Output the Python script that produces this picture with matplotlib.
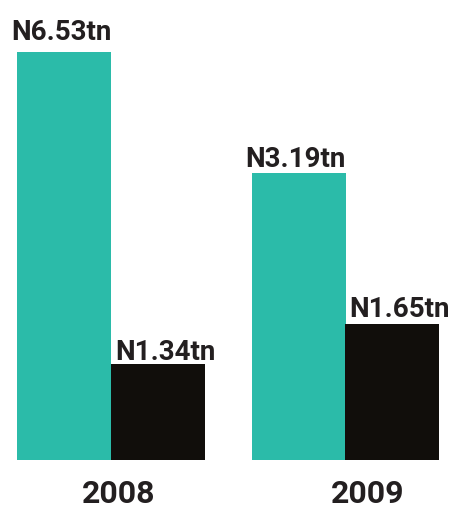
import matplotlib
matplotlib.use("Agg")
import matplotlib.pyplot as plt
import matplotlib.transforms as mtransforms
import numpy as np

plt.rcParams['font.family'] = ['Roboto', 'DejaVu Sans']

years = ["2008", "2009"]
# values shown on the labels (trillion naira)
teal_values = [6.53, 3.19]
black_values = [1.34, 1.65]
# bar heights as drawn in the picture (not to scale with the labels)
teal_heights = [6.53, 4.59]
black_heights = [1.53, 2.17]

teal = "#2bbba9"
black = "#110e0b"
text_col = "#231f20"

W, H = 454, 518
fig = plt.figure(figsize=(W / 100, H / 100), dpi=100)
ax = fig.add_axes([0, 58.5 / H, 1, 459.5 / H])

x = np.arange(len(years))
bw = 0.4
ax.bar(x - bw / 2, teal_heights, width=bw, color=teal)
ax.bar(x + bw / 2, black_heights, width=bw, color=black)

ax.set_xlim(-111 / 234.5, (W - 111) / 234.5)
ax.set_ylim(0, 459.5 / 62.4)
ax.axis('off')

def label(xpos, h, txt, dx, gap):
    tr = mtransforms.offset_copy(ax.transData, fig=fig, x=dx * 0.72, y=gap * 0.72, units='points')
    ax.text(xpos, h, txt, transform=tr, ha='center', va='baseline',
            fontsize=20, fontweight='bold', color=text_col)

teal_gap = [12, 6]
black_gap = [4, 7]
for i in range(len(years)):
    label(x[i] - bw / 2, teal_heights[i], f"N{teal_values[i]:.2f}tn", -3, teal_gap[i])
    label(x[i] + bw / 2, black_heights[i], f"N{black_values[i]:.2f}tn", 7.5, black_gap[i])

year_dx = [7.5, 22.5]
for i, yr in enumerate(years):
    tr = mtransforms.offset_copy(ax.transData, fig=fig, x=year_dx[i] * 0.72, y=-43.5 * 0.72, units='points')
    ax.text(x[i], 0, yr, transform=tr, ha='center', va='baseline',
            fontsize=23, fontweight='bold', color=text_col)

fig.savefig("out.png", dpi=100)
